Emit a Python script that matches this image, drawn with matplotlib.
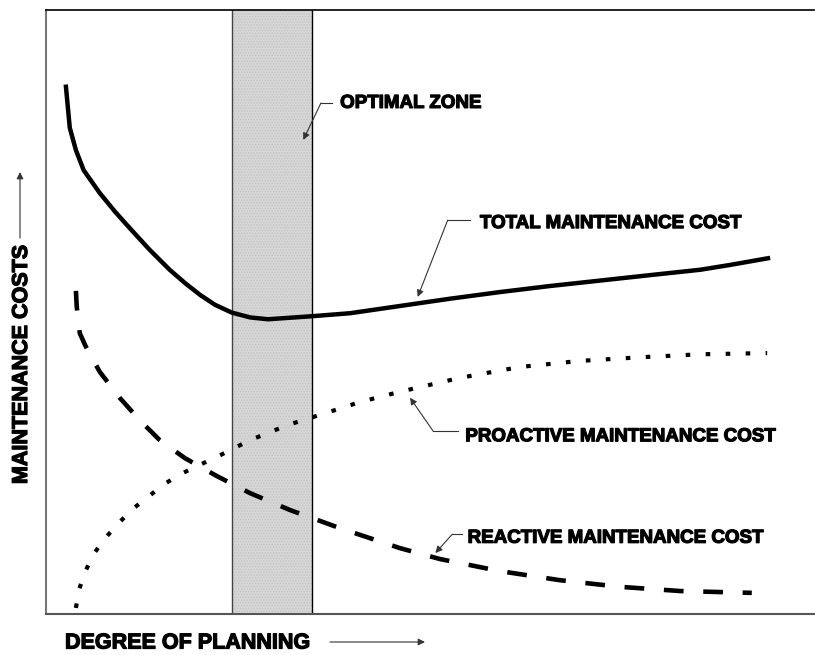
import numpy as np
import matplotlib
matplotlib.use("Agg")
import matplotlib.pyplot as plt
import matplotlib.patheffects as pe

plt.rcParams['font.family'] = ['Liberation Sans', 'DejaVu Sans']

# degree of planning (0-100) and cost (0-100)
total_x = [2.6, 3.1, 3.9, 4.9, 7.0, 9.0, 10.9, 13.5, 16.1, 18.1, 20.1, 22.0, 24.2, 26.6, 28.9,
           34.6, 39.6, 46.1, 52.6, 59.1, 65.6, 72.1, 78.6, 85.2, 89.1, 94.0]
total_y = [87.3, 80.5, 76.8, 73.5, 69.7, 66.6, 63.9, 60.3, 57.0, 54.8, 52.8, 51.2, 49.9, 49.1, 48.8,
           49.3, 49.8, 51.0, 52.2, 53.3, 54.3, 55.2, 56.1, 57.0, 57.8, 58.9]

reactive_x = [3.9, 4.0, 4.2, 4.4, 5.1, 6.0, 7.0, 9.6, 12.2, 14.8, 18.1, 22.3, 26.6, 31.8, 38.3,
              46.1, 51.3, 59.1, 66.9, 74.7, 82.6, 91.9]
reactive_y = [53.5, 51.0, 48.7, 46.5, 44.5, 42.4, 40.1, 35.8, 32.1, 28.8, 25.8, 22.8, 20.0, 17.2, 14.2,
              10.9, 9.1, 7.1, 5.6, 4.5, 3.8, 3.5]

proactive_x = [3.9, 4.3, 5.1, 6.3, 7.8, 9.5, 11.3, 13.3, 15.4, 17.6, 19.7, 22.7, 26.6, 31.5,
               36.5, 40.9, 46.1, 53.9, 61.7, 69.5, 77.3, 85.2, 93.9]
proactive_y = [1.0, 4.0, 7.0, 10.1, 12.7, 15.1, 17.4, 19.4, 21.5, 23.2, 24.5, 26.3, 28.8, 31.3,
               33.3, 35.1, 36.8, 39.1, 40.9, 41.9, 42.5, 43.0, 43.2]

zone_lo, zone_hi = 24.2, 34.6

fig = plt.figure(figsize=(8.15, 6.55), dpi=100)
ax = fig.add_axes([0.0564, 0.0626, 0.9424, 0.9221])
ax.set_xlim(0, 100)
ax.set_ylim(0, 100)
ax.set_xticks([])
ax.set_yticks([])
ax.spines['right'].set_visible(False)
ax.spines['left'].set_color('#777777')
ax.spines['left'].set_linewidth(1.5)
ax.spines['bottom'].set_color('#555555')
ax.spines['bottom'].set_linewidth(1.5)
ax.spines['top'].set_color('black')
ax.spines['top'].set_linewidth(1.2)

# optimal zone band
plt.rcParams['hatch.linewidth'] = 0.6
ax.axvspan(zone_lo, zone_hi, facecolor='#d6d6d6', edgecolor='#c2c2c2', hatch='......',
           linewidth=0, zorder=1)
ax.axvline(zone_lo, color='#444444', lw=1.0, zorder=2)
ax.axvline(zone_hi, color='black', lw=1.0, zorder=2)

ax.plot(total_x, total_y, color='black', lw=3.2, solid_joinstyle='round', zorder=3)
l1, = ax.plot(reactive_x, reactive_y, color='black', lw=3.3, zorder=3)
l1.set_dashes((4.3, 4.3))
l2, = ax.plot(proactive_x, proactive_y, color='black', lw=3.0, zorder=3)
l2.set_dashes((1.1, 3.7))

heavy = [pe.withStroke(linewidth=0.9, foreground='black')]
lab = dict(fontsize=13.5, fontweight='bold', ha='left', va='baseline', path_effects=heavy)
arrow = dict(arrowstyle='-|>', color='#333333', lw=0.8, mutation_scale=10,
             shrinkA=0, shrinkB=0)

def callout(text, tx, ty, h0, h1, hy, tip):
    ax.text(tx, ty, text, **lab)
    ax.plot([h0, h1], [hy, hy], color='#333333', lw=0.8)
    ax.annotate('', xy=tip, xytext=(h1, hy), arrowprops=arrow)

callout('OPTIMAL ZONE', 38.3, 83.8, 37.2, 35.8, 84.6, (33.5, 78.5))
callout('TOTAL MAINTENANCE COST', 56.5, 63.9, 55.2, 52.3, 65.2, (48.4, 52.5))
callout('PROACTIVE MAINTENANCE COST', 54.6, 28.6, 53.6, 50.4, 30.3, (47.4, 35.8))
callout('REACTIVE MAINTENANCE COST', 54.9, 11.8, 54.2, 52.9, 13.2, (50.7, 10.1))

# axis titles with arrows
fig.text(65 / 815, 1.5 / 655, 'DEGREE OF PLANNING', fontsize=15.5, fontweight='bold',
         ha='left', va='bottom', path_effects=heavy)
ax.annotate('', xy=(425 / 815, 13 / 655), xytext=(330 / 815, 13 / 655),
            xycoords='figure fraction', textcoords='figure fraction', arrowprops=arrow)

fig.text(21.5 / 815, 290 / 655, 'MAINTENANCE COSTS', fontsize=15.5, fontweight='bold',
         rotation=90, ha='center', va='center', path_effects=heavy)
ax.annotate('', xy=(20 / 815, 483 / 655), xytext=(20 / 815, 417 / 655),
            xycoords='figure fraction', textcoords='figure fraction', arrowprops=arrow)

fig.savefig('out.png', dpi=100)
